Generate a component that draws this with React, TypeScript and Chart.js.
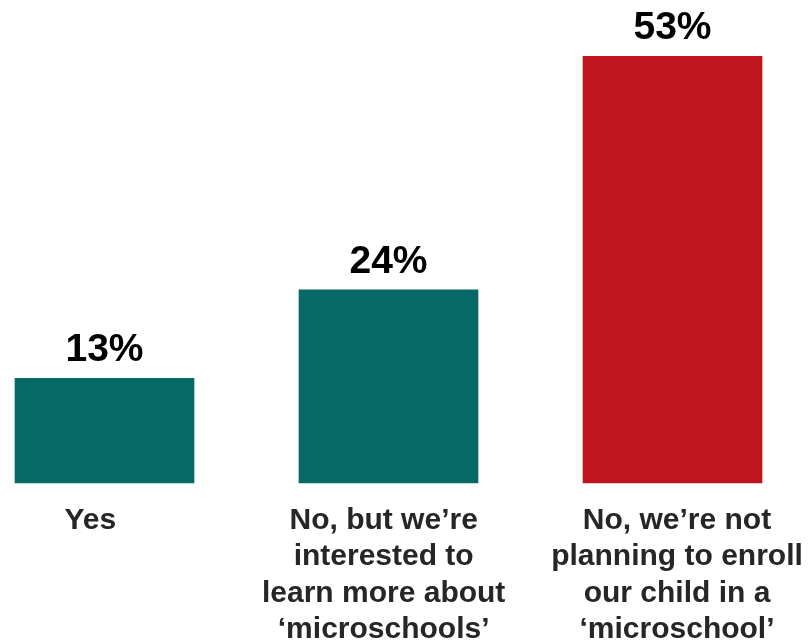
import React, { useEffect, useRef } from "react";
import { Chart, registerables } from "chart.js";

Chart.register(...registerables);

const categories: string[][] = [
  ["Yes"],
  ["No, but we’re", "interested to", "learn more about", "‘microschools’"],
  ["No, we’re not", "planning to enroll", "our child in a", "‘microschool’"],
];
const values: number[] = [13, 24, 53];
const barColors: string[] = ["#076966", "#076966", "#be161c"];
const valueLabels: string[] = ["13%", "24%", "53%"];

const dataLabelPlugin = {
  id: "dataLabels",
  afterDatasetsDraw(chart: any) {
    const ctx = chart.ctx;
    const meta = chart.getDatasetMeta(0);
    ctx.save();
    ctx.font = "bold 39px 'Liberation Sans', Arial, sans-serif";
    ctx.fillStyle = "#000000";
    ctx.textAlign = "center";
    ctx.textBaseline = "alphabetic";
    meta.data.forEach((bar: any, i: number) => {
      ctx.fillText(valueLabels[i], bar.x, bar.y - 17);
    });
    ctx.restore();
  },
};

export default function App() {
  const ref = useRef<HTMLCanvasElement | null>(null);
  useEffect(() => {
    if (!ref.current) return;
    const chart = new Chart(ref.current, {
      type: "bar",
      data: {
        labels: categories,
        datasets: [
          {
            data: values.map((v, i) => ({ x: i, y: v })) as any,
            xAxisID: "xb",
            backgroundColor: barColors,
            borderWidth: 0,
            barThickness: 179,
            clip: false as any,
          },
        ],
      },
      options: {
        responsive: false,
        animation: false,
        layout: { padding: { left: 90.3, right: 132, top: 0, bottom: 0 } },
        plugins: {
          legend: { display: false },
          tooltip: { enabled: false },
        },
        scales: {
          x: {
            type: "category",
            offset: false,
            grid: { display: false, drawTicks: false },
            border: { display: false },
            ticks: {
              color: "#262626",
              padding: 19,
              maxRotation: 0,
              autoSkip: false,
              font: { family: "'Liberation Sans', Arial, sans-serif", size: 30, weight: "bold", lineHeight: 1.22 },
            },
            afterFit: (scale: any) => {
              scale.height = 160;
              scale.paddingLeft = 0;
              scale.paddingRight = 0;
            },
          },
          xb: {
            type: "linear",
            display: false,
            offset: false,
            min: -0.05,
            max: 2.0158,
          },
          y: {
            display: false,
            min: 0,
            max: 60,
          },
        },
      },
      plugins: [dataLabelPlugin],
    });
    return () => chart.destroy();
  }, []);
  return (
    <div style={{ position: "fixed", left: 0, top: 0, width: 809, height: 643, background: "#ffffff" }}>
      <canvas ref={ref} width={809} height={643} style={{ display: "block", width: 809, height: 643 }} />
    </div>
  );
}
